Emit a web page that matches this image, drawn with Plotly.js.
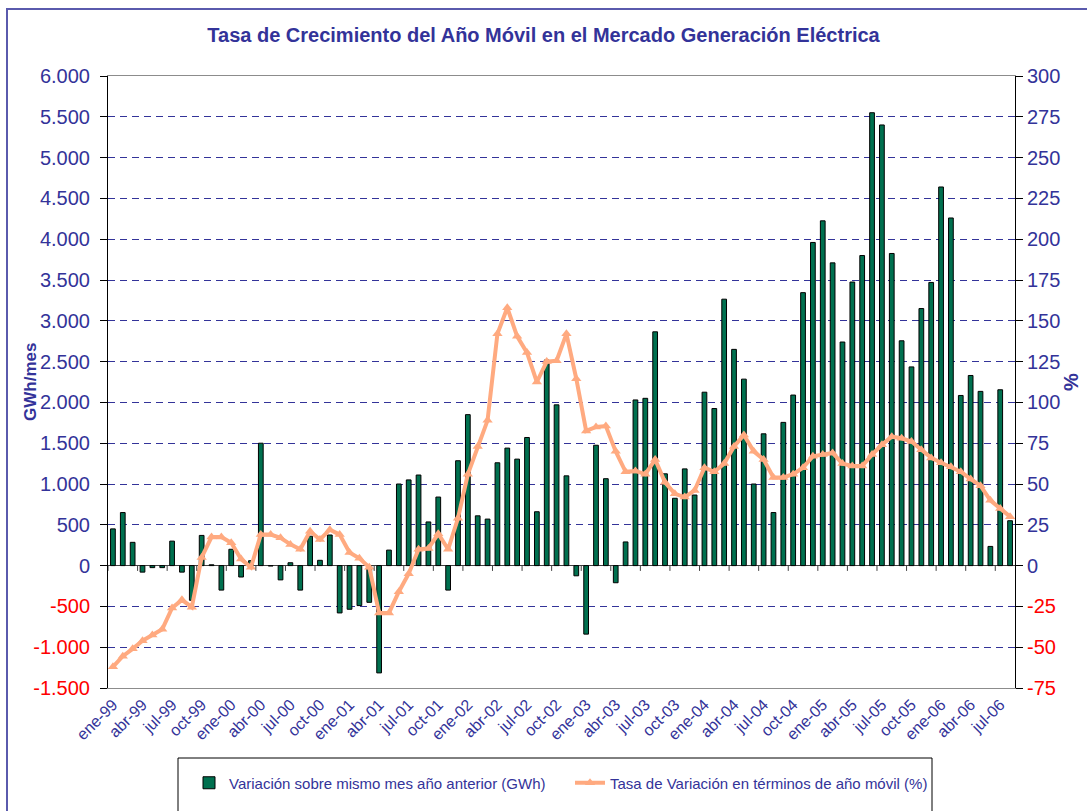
<!DOCTYPE html>
<html>
<head>
<meta charset="utf-8">
<script src="https://cdn.plot.ly/plotly-3.0.1.min.js"></script>
<style>
  html, body { margin: 0; padding: 0; background: #fff; }
  #wrap { position: relative; width: 1087px; height: 811px; }
  #chart { position: absolute; left: 0; top: 0; width: 1087px; height: 811px; }
  #frame { position: absolute; left: 6px; top: 8px; width: 1200px; height: 900px;
           border-left: 2px solid #5a5aad; border-top: 2px solid #5a5aad; pointer-events: none; }
</style>
</head>
<body>
<div id="wrap">
  <div id="chart"></div>
  <div id="frame"></div>
</div>
<script>
// ---- Data ----
const meses = [
  "ene-99","feb-99","mar-99","abr-99","may-99","jun-99","jul-99","ago-99","sep-99","oct-99","nov-99","dic-99",
  "ene-00","feb-00","mar-00","abr-00","may-00","jun-00","jul-00","ago-00","sep-00","oct-00","nov-00","dic-00",
  "ene-01","feb-01","mar-01","abr-01","may-01","jun-01","jul-01","ago-01","sep-01","oct-01","nov-01","dic-01",
  "ene-02","feb-02","mar-02","abr-02","may-02","jun-02","jul-02","ago-02","sep-02","oct-02","nov-02","dic-02",
  "ene-03","feb-03","mar-03","abr-03","may-03","jun-03","jul-03","ago-03","sep-03","oct-03","nov-03","dic-03",
  "ene-04","feb-04","mar-04","abr-04","may-04","jun-04","jul-04","ago-04","sep-04","oct-04","nov-04","dic-04",
  "ene-05","feb-05","mar-05","abr-05","may-05","jun-05","jul-05","ago-05","sep-05","oct-05","nov-05","dic-05",
  "ene-06","feb-06","mar-06","abr-06","may-06","jun-06","jul-06","ago-06"
];

// Variación sobre mismo mes año anterior (GWh)
const variacionGWh = [
  450, 650, 285, -80, -25, -25, 300, -80, -425, 370, 10, -300,
  200, -140, 60, 1500, -5, -175, 35, -300, 360, 65, 375, -580,
  -535, -490, -450, -1315, 190, 1000, 1050, 1110, 535, 840, -300, 1285,
  1850, 610, 570, 1260, 1440, 1305, 1570, 660, 2520, 1970, 1100, -125,
  -840, 1475, 1065, -210, 290, 2030, 2050, 2865, 1125, 825, 1185, 865,
  2125, 1925, 3265, 2650, 2285, 1000, 1615, 650, 1755, 2090, 3345, 3960,
  4225, 3710, 2740, 3475, 3800, 5550, 5400, 3825, 2755, 2435, 3150, 3470,
  4640, 4260, 2085, 2330, 2135, 235, 2155, 550
];

// Tasa de Variación en términos de año móvil (%)
const tasaAnoMovil = [
  -62, -55.5, -51, -46, -42.5, -39, -26, -21, -25.5, 5, 17.5, 17.5,
  14, 4, -1, 19, 19, 17, 13, 10, 21, 16, 22, 19,
  8, 4.5, -1, -29, -29, -16, -5, 10, 10.5, 19.5, 10, 29,
  56, 73, 89, 142, 158, 140.5, 130.5, 112.5, 125, 125.5, 142, 114.5,
  82.5, 85, 85.5, 70, 57.5, 58, 56, 65, 51, 44, 42, 46,
  60, 57.5, 62.5, 73, 80, 70, 65, 54, 54, 56, 60, 67,
  68, 69, 62.5, 61, 61, 68, 74, 79, 78, 76, 71, 66,
  63, 60.5, 57.5, 53, 49, 40, 35, 30
];

// Tick labels
const etiquetasX = [
  "ene-99","abr-99","jul-99","oct-99","ene-00","abr-00","jul-00","oct-00",
  "ene-01","abr-01","jul-01","oct-01","ene-02","abr-02","jul-02","oct-02",
  "ene-03","abr-03","jul-03","oct-03","ene-04","abr-04","jul-04","oct-04",
  "ene-05","abr-05","jul-05","oct-05","ene-06","abr-06","jul-06"
];
const ticksGWh = [-1500, -1000, -500, 0, 500, 1000, 1500, 2000, 2500, 3000, 3500, 4000, 4500, 5000, 5500, 6000];
const textosGWh = ["-1.500","-1.000","-500","0","500","1.000","1.500","2.000","2.500","3.000","3.500","4.000","4.500","5.000","5.500","6.000"];
const ticksPct = [-75, -50, -25, 0, 25, 50, 75, 100, 125, 150, 175, 200, 225, 250, 275, 300];
const textosPct = ["-75","-50","-25","0","25","50","75","100","125","150","175","200","225","250","275","300"];

// ---- Styling ----
const AZUL = "#333399";
const ROJO = "#ff0000";
const FONT = "Arial, 'Liberation Sans', sans-serif";
function colorea(vals, txts) {
  return txts.map((t, i) => vals[i] < 0 ? '<span style="color:' + ROJO + '">' + t + '</span>' : t);
}

const traces = [
  {
    type: "bar",
    name: "Variación sobre mismo mes año anterior (GWh)",
    x: meses,
    y: variacionGWh,
    yaxis: "y",
    marker: { color: "#00704f", line: { color: "#000000", width: 1 } }
  },
  {
    type: "scatter",
    mode: "lines+markers",
    name: "Tasa de Variación en términos de año móvil (%)",
    x: meses,
    y: tasaAnoMovil,
    yaxis: "y2",
    line: { color: "#ffaa80", width: 4 },
    marker: { symbol: "triangle-up", size: 9, color: "#ffaa80" }
  }
];

// small category-boundary ticks on the zero line (every 3 months, like the original axis)
const shapes = [];
for (let k = 0; k * 3 < meses.length; k++) {
  shapes.push({
    type: "line", xref: "x", yref: "y",
    x0: 3 * k - 0.5, x1: 3 * k - 0.5,
    y0: 0, y1: -65,
    line: { color: "#404040", width: 1 }, layer: "above"
  });
}
// legend frame
shapes.push({
  type: "rect", xref: "paper", yref: "paper",
  x0: (178 - 108) / 907, x1: (932 - 108) / 907,
  y0: -(811 - 688) / 612 - 0.01, y1: -(758 - 688) / 612,
  line: { color: "#000000", width: 1 }, fillcolor: "rgba(0,0,0,0)", layer: "above"
});

const layout = {
  width: 1087,
  height: 811,
  paper_bgcolor: "#ffffff",
  plot_bgcolor: "#ffffff",
  font: { family: FONT, color: AZUL },
  separators: ",.",
  margin: { l: 108, r: 72, t: 76, b: 123, autoexpand: false },
  bargap: 0.52,
  showlegend: true,
  shapes: shapes,
  annotations: [
    {
      text: "<b>GWh/mes</b>",
      xref: "paper", yref: "paper",
      x: (30 - 108) / 907, y: 0.5,
      xanchor: "center", yanchor: "middle",
      textangle: -90, showarrow: false,
      font: { family: FONT, size: 17, color: AZUL }
    }
  ],
  title: {
    text: "<b>Tasa de Crecimiento del Año Móvil en el Mercado Generación Eléctrica</b>",
    font: { family: FONT, size: 20, color: AZUL },
    x: 0.5, xanchor: "center",
    y: 1 - 35 / 811, yanchor: "middle"
  },
  xaxis: {
    type: "category",
    tickmode: "array",
    tickvals: etiquetasX,
    ticktext: etiquetasX,
    tickangle: -45,
    tickfont: { family: FONT, size: 16, color: AZUL },
    ticks: "",
    showgrid: false,
    showline: true,
    linecolor: "#8c8c8c",
    linewidth: 1,
    mirror: true,
    automargin: false,
    range: [-0.5, meses.length - 0.5]
  },
  yaxis: {
    range: [-1500, 6000],
    tickmode: "array",
    tickvals: ticksGWh,
    ticktext: colorea(ticksGWh, textosGWh),
    tickfont: { family: FONT, size: 20, color: AZUL },
    ticks: "outside",
    ticklen: 7,
    tickcolor: "#000000",
    ticklabelstandoff: 6,
    showline: true,
    linecolor: "#000000",
    linewidth: 1,
    showgrid: true,
    gridcolor: AZUL,
    gridwidth: 1,
    griddash: "7px,5px",
    zeroline: true,
    zerolinecolor: "#404040",
    zerolinewidth: 1,
    automargin: false
  },
  yaxis2: {
    overlaying: "y",
    side: "right",
    range: [-75, 300],
    tickmode: "array",
    tickvals: ticksPct,
    ticktext: colorea(ticksPct, textosPct),
    tickfont: { family: FONT, size: 20, color: AZUL },
    ticks: "outside",
    ticklen: 7,
    tickcolor: "#000000",
    showline: true,
    linecolor: "#000000",
    linewidth: 1,
    showgrid: false,
    zeroline: false,
    automargin: false,
    title: {
      text: "<b>%</b>",
      font: { family: FONT, size: 20, color: AZUL },
      standoff: 4
    }
  },
  legend: {
    orientation: "h",
    x: (570 - 108) / 907, xanchor: "center",
    y: -(783 - 688) / 612, yanchor: "middle",
    bgcolor: "rgba(0,0,0,0)",
    borderwidth: 0,
    font: { family: FONT, size: 15, color: AZUL },
    entrywidth: 336,
    traceorder: "normal"
  }
};

Plotly.newPlot("chart", traces, layout, { displayModeBar: false, staticPlot: true });
</script>
</body>
</html>
